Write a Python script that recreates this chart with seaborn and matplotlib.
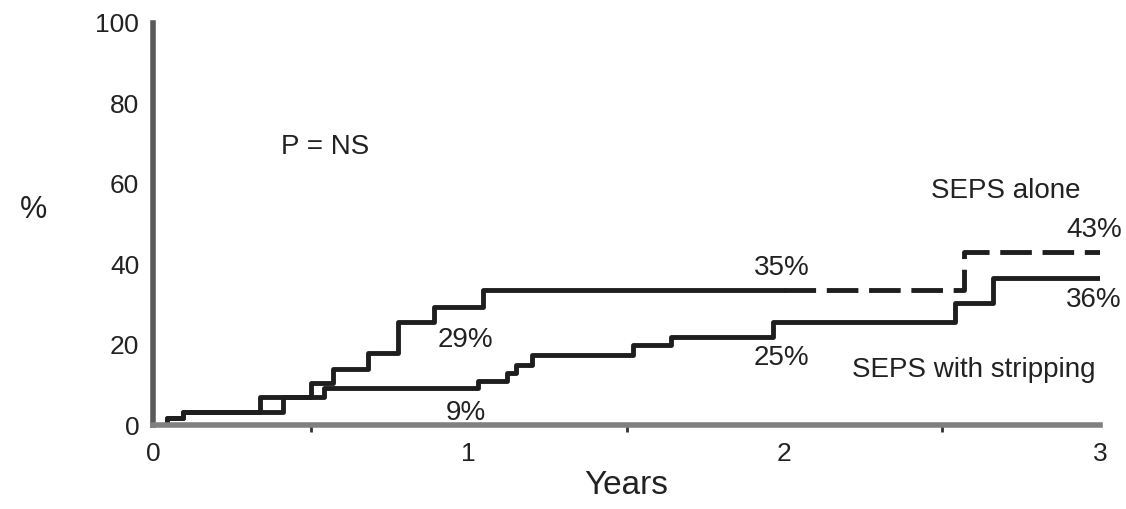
import numpy as np
import pandas as pd
import matplotlib
matplotlib.use("Agg")
import matplotlib.pyplot as plt
import seaborn as sns

# SEPS alone (upper curve), solid part then dashed after 2 years
alone_t = [0, 0.044, 0.095, 0.34, 0.50, 0.57, 0.68, 0.775, 0.89, 1.045, 2.0]
alone_pct = [0, 1.7, 3.3, 7.0, 10.5, 14.0, 18.0, 25.6, 29.4, 33.6, 33.6]
alone_dash_t = [2.0, 2.57, 3.0]
alone_dash_pct = [33.6, 43.0, 43.0]

# SEPS with stripping (lower curve)
strip_t = [0, 0.044, 0.095, 0.41, 0.54, 1.03, 1.12, 1.15, 1.20, 1.52, 1.64, 1.965, 2.54, 2.66, 3.0]
strip_pct = [0, 1.7, 3.3, 7.0, 9.2, 11.0, 13.0, 15.0, 17.4, 19.9, 21.9, 25.6, 30.3, 36.6, 36.6]

sns.set_style("white")
plt.rcParams['font.family'] = ['Liberation Sans', 'DejaVu Sans']

fig = plt.figure(figsize=(11.26, 5.09), dpi=100)
ax = fig.add_axes([0.136, 0.165, 0.841, 0.79])

line_col = '#1e1e1e'
sns.lineplot(x=alone_t, y=alone_pct, ax=ax, color=line_col, lw=3.5,
             drawstyle='steps-post', estimator=None, sort=False)
sns.lineplot(x=alone_dash_t, y=alone_dash_pct, ax=ax, color=line_col, lw=3.5,
             drawstyle='steps-post', estimator=None, sort=False,
             linestyle=(0, (6.5, 2.2)))
sns.lineplot(x=strip_t, y=strip_pct, ax=ax, color=line_col, lw=3.5,
             drawstyle='steps-post', estimator=None, sort=False)

ax.set_xlim(0, 3.0)
ax.set_ylim(0, 100)
ax.set_xticks([0, 1, 2, 3])
ax.set_xticks([0.5, 1.5, 2.5], minor=True)
ax.set_yticks([0, 20, 40, 60, 80, 100])
sns.despine(ax=ax)
ax.spines['left'].set_color('#5a5a5a')
ax.spines['left'].set_linewidth(4)
ax.spines['bottom'].set_color('#808080')
ax.spines['bottom'].set_linewidth(4)
ax.tick_params(axis='y', which='major', direction='out', length=6, width=2.5,
               color='#555555', labelsize=19, labelcolor='#222222', pad=4)
ax.tick_params(axis='x', which='major', direction='out', length=5, width=2,
               color='#333333', labelsize=19, labelcolor='#222222', pad=7)
ax.tick_params(axis='x', which='minor', direction='out', length=5, width=2,
               color='#333333', bottom=True)
ax.set_xlabel('Years', fontsize=24, color='#222222', labelpad=3)
ax.set_ylabel('%', fontsize=22, rotation=0, color='#222222',
              ha='center', va='center')
ax.yaxis.set_label_coords(-0.126, 0.535)

txt = dict(fontsize=20, color='#222222', ha='center', va='baseline')
ax.text(0.545, 67.4, 'P = NS', **txt)
ax.text(2.70, 56.5, 'SEPS alone', **txt)
ax.text(2.98, 46.8, '43%', **txt)
ax.text(1.99, 37.3, '35%', **txt)
ax.text(0.99, 19.4, '29%', **txt)
ax.text(1.99, 14.9, '25%', **txt)
ax.text(2.98, 29.4, '36%', **txt)
ax.text(2.60, 11.9, 'SEPS with stripping', **txt)
ax.text(0.99, 1.2, '9%', **txt)

fig.savefig('out.png', dpi=100)
